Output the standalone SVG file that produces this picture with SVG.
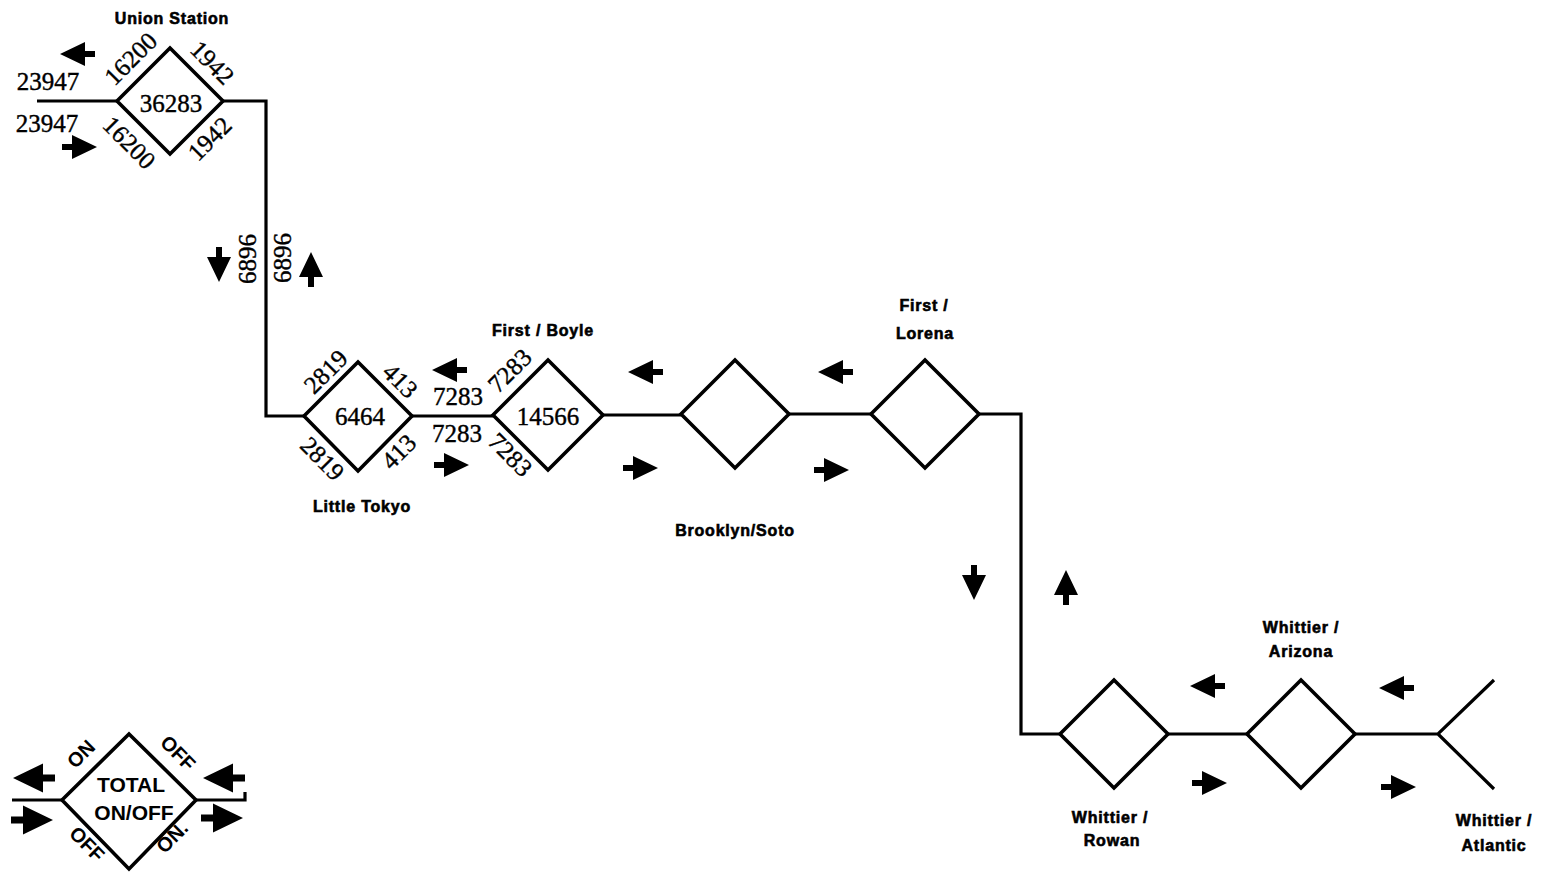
<svg xmlns="http://www.w3.org/2000/svg" xmlns:xlink="http://www.w3.org/1999/xlink" width="1543" height="874" viewBox="0 0 1543 874">
<style>
.ln{fill:none;stroke:#000;stroke-width:3.2;stroke-linejoin:miter}
.dm{fill:#fff;stroke:#000;stroke-width:3.6;stroke-linejoin:miter}
.num{font-family:"Liberation Serif","Times New Roman",serif;font-size:25px;fill:#000;stroke:#000;stroke-width:0.4;text-anchor:middle}
.lbl{font-family:"Liberation Sans",Arial,sans-serif;font-weight:bold;font-size:16px;letter-spacing:0.8px;fill:#000;stroke:#000;stroke-width:0.6;text-anchor:middle}
.lg{font-family:"Liberation Sans",Arial,sans-serif;font-weight:bold;font-size:21px;fill:#000;text-anchor:middle}
.lgs{font-family:"Liberation Sans",Arial,sans-serif;font-weight:bold;font-size:20px;fill:#000;text-anchor:middle}
</style>
<defs>
<path id="ar" d="M0,0 L-25,-12 L-25,12 Z M-24,-3 H-35 V3 H-24 Z" fill="#000"/>
</defs>
<rect width="1543" height="874" fill="#fff"/>

<g id="connectors">
<path class="ln" d="M37,101 H117"/>
<path class="ln" d="M223,101 H266 V416 H304"/>
<path class="ln" d="M412,416 H493"/>
<path class="ln" d="M603,415 H681"/>
<path class="ln" d="M789,414 H871"/>
<path class="ln" d="M979,414 H1021 V734 H1060"/>
<path class="ln" d="M1168,734 H1247"/>
<path class="ln" d="M1355,734 H1438 L1494,680 M1438,734 L1494,789"/>
<path class="ln" d="M12,800 H62 M196,800 H245 V792"/>
<g id="arrows">
<use xlink:href="#ar" transform="translate(60,54) rotate(180)"/>
<use xlink:href="#ar" transform="translate(97,147)"/>
<use xlink:href="#ar" transform="translate(219,282) rotate(90)"/>
<use xlink:href="#ar" transform="translate(311,252) rotate(-90)"/>
<use xlink:href="#ar" transform="translate(432,370) rotate(180)"/>
<use xlink:href="#ar" transform="translate(469,465)"/>
<use xlink:href="#ar" transform="translate(628,372) rotate(180)"/>
<use xlink:href="#ar" transform="translate(658,468)"/>
<use xlink:href="#ar" transform="translate(818,372) rotate(180)"/>
<use xlink:href="#ar" transform="translate(849,470)"/>
<use xlink:href="#ar" transform="translate(974,600) rotate(90)"/>
<use xlink:href="#ar" transform="translate(1066,570) rotate(-90)"/>
<use xlink:href="#ar" transform="translate(1190,686) rotate(180)"/>
<use xlink:href="#ar" transform="translate(1227,783)"/>
<use xlink:href="#ar" transform="translate(1379,688) rotate(180)"/>
<use xlink:href="#ar" transform="translate(1416,787)"/>
<use xlink:href="#ar" transform="translate(13,778) rotate(180) scale(1.2)"/>
<use xlink:href="#ar" transform="translate(53,820) scale(1.2)"/>
<use xlink:href="#ar" transform="translate(203,778) rotate(180) scale(1.2)"/>
<use xlink:href="#ar" transform="translate(243,818) scale(1.2)"/>
</g>
<g id="link-labels">
<text class="num" x="48" y="90">23947</text>
<text class="num" x="47" y="132">23947</text>
<text class="num" transform="translate(248,259) rotate(-90)" x="0" y="8">6896</text>
<text class="num" transform="translate(283,258) rotate(-90)" x="0" y="8">6896</text>
<text class="num" x="458" y="405">7283</text>
<text class="num" x="457" y="442">7283</text>
</g>
</g>

<g id="union-station">
<polygon class="dm" points="117,101 170,48 223,101 170,154"/>
<text class="num" x="171" y="112">36283</text>
<text class="num" transform="translate(131,59) rotate(-45)" x="0" y="8">16200</text>
<text class="num" transform="translate(212,63) rotate(45)" x="0" y="8">1942</text>
<text class="num" transform="translate(129,143) rotate(45)" x="0" y="8">16200</text>
<text class="num" transform="translate(210,139) rotate(-45)" x="0" y="8">1942</text>
<text class="lbl" x="172" y="24">Union Station</text>
</g>

<g id="little-tokyo">
<polygon class="dm" points="304,416 358,362 412,416 358,471"/>
<text class="num" x="360" y="425">6464</text>
<text class="num" transform="translate(326,372) rotate(-45)" x="0" y="8">2819</text>
<text class="num" transform="translate(400,381) rotate(45)" x="0" y="8">413</text>
<text class="num" transform="translate(322,459) rotate(45)" x="0" y="8">2819</text>
<text class="num" transform="translate(399,452) rotate(-45)" x="0" y="8">413</text>
<text class="lbl" x="362" y="512">Little Tokyo</text>
</g>

<g id="first-boyle">
<polygon class="dm" points="493,415 548,360 603,415 548,470"/>
<text class="num" x="548" y="425">14566</text>
<text class="num" transform="translate(510,371) rotate(-45)" x="0" y="8">7283</text>
<text class="num" transform="translate(510,455) rotate(45)" x="0" y="8">7283</text>
<text class="lbl" x="543" y="336">First / Boyle</text>
</g>

<g id="brooklyn-soto">
<polygon class="dm" points="681,414 735,360 789,414 735,468"/>
<text class="lbl" x="735" y="536">Brooklyn/Soto</text>
</g>

<g id="first-lorena">
<polygon class="dm" points="871,414 925,360 979,414 925,468"/>
<text class="lbl" x="924" y="311">First /</text>
<text class="lbl" x="925" y="339">Lorena</text>
</g>

<g id="whittier-rowan">
<polygon class="dm" points="1060,734 1114,680 1168,734 1114,788"/>
<text class="lbl" x="1110" y="823">Whittier /</text>
<text class="lbl" x="1112" y="846">Rowan</text>
</g>

<g id="whittier-arizona">
<polygon class="dm" points="1247,734 1301,680 1355,734 1301,788"/>
<text class="lbl" x="1301" y="633">Whittier /</text>
<text class="lbl" x="1301" y="657">Arizona</text>
</g>

<g id="whittier-atlantic">
<text class="lbl" x="1494" y="826">Whittier /</text>
<text class="lbl" x="1494" y="851">Atlantic</text>
</g>

<g id="legend">
<polygon class="dm" points="62,800 129,734 196,800 129,869"/>
<text class="lg" x="131" y="792">TOTAL</text>
<text class="lg" x="134" y="820">ON/OFF</text>
<text class="lgs" transform="translate(81,754) rotate(-45)" x="0" y="7">ON</text>
<text class="lgs" transform="translate(178,753) rotate(45)" x="0" y="7">OFF</text>
<text class="lgs" transform="translate(87,844) rotate(45)" x="0" y="7">OFF</text>
<text class="lgs" transform="translate(172,837) rotate(-45)" x="0" y="7">ON.</text>
</g>
</svg>
